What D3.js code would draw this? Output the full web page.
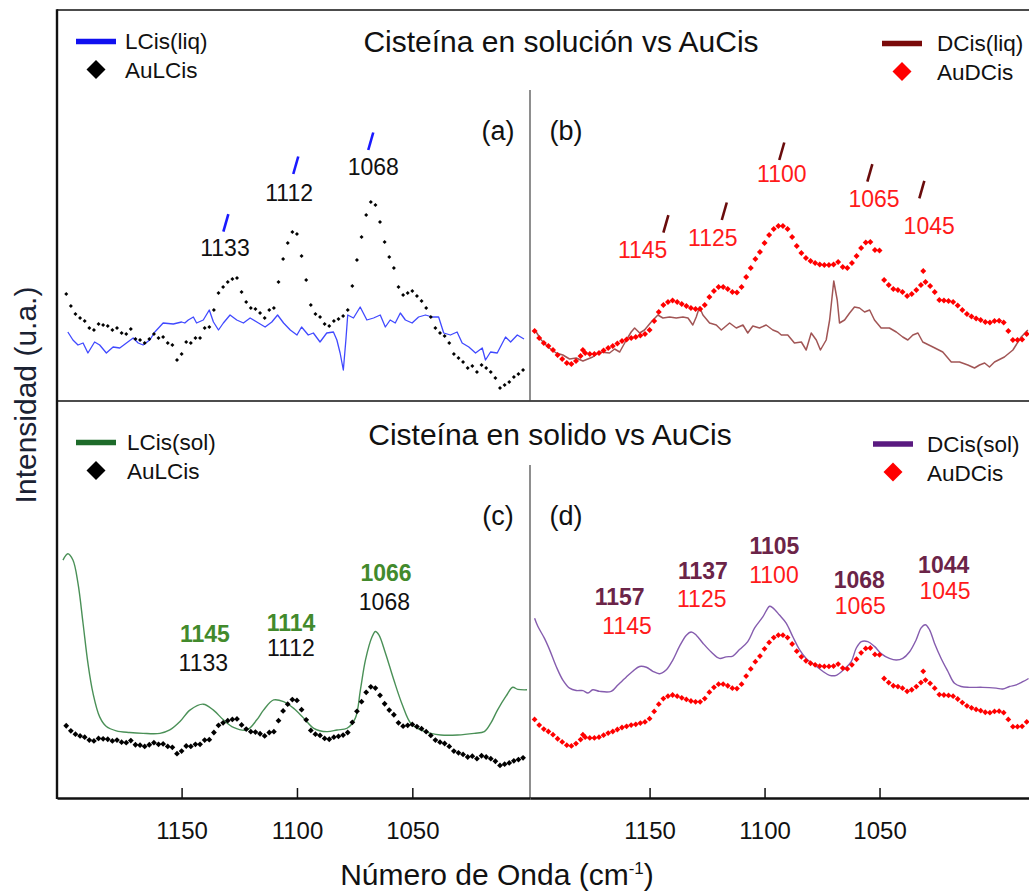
<!DOCTYPE html>
<html>
<head>
<meta charset="utf-8">
<script src="https://cdn.jsdelivr.net/npm/d3@7"></script>
<style>
  body { margin: 0; background: #ffffff; }
  svg text { font-family: "Liberation Sans", Arial, sans-serif; }
</style>
</head>
<body>
<svg id="chart" width="1029" height="894"></svg>
<script>
// ---------------- data ----------------
const tickValues = [1150, 1100, 1050];

// Au–L-cysteine (AuLCis), sampled every 2 cm-1 starting at 1200 cm-1
const auLCisStart = 1200, auLCisStep = 2;
const auLCis = [96, 84, 76, 72, 69, 62, 60, 66, 65, 64, 60, 62, 57, 56, 61, 51, 50, 47, 51, 56,
  52, 53, 47, 45, 30, 36, 48, 47, 52, 52, 62, 63, 80, 97, 103, 108, 111, 112, 98, 88,
  82, 81, 77, 72, 80, 82, 108, 131, 147, 158, 156, 134, 110, 85, 76, 73, 66, 64, 69, 71,
  74, 80, 104, 130, 153, 175, 188, 185, 168, 148, 133, 122, 103, 95, 97, 99, 94, 89, 82, 73,
  62, 57, 54, 47, 36, 32, 28, 22, 24, 18, 25, 22, 18, 12, 2, 5, 8, 13, 16, 20];

// Au–D-cysteine (AuDCis), sampled every 2 cm-1 starting at 1200 cm-1
const auDCisStart = 1200, auDCisStep = 2;
const auDCis = [33, 26, 21, 18, 14, 9, 5, 1, 0, 3, 8, 11, 10, 10, 11, 13.5, 16, 18, 20.5, 23,
  24.5, 26, 27, 28.5, 30, 34, 43, 52, 59, 62, 63.5, 62, 60, 58, 56, 55, 55, 59, 67, 73,
  77, 77, 75, 72, 71.5, 77, 87, 96, 105, 112, 121, 129, 135, 138, 138, 135, 127, 118, 111, 106,
  103, 101, 99.5, 99, 99, 99.5, 102, 97, 96, 101, 108, 116, 121.5, 122, 114, 113.5, 84, 79, 75, 74,
  72, 68, 70, 74, 79, 82, 78, 72, 64, 63.5, 63, 62, 58.5, 54, 50, 47.5, 45.5, 44, 42, 41.5,
  43, 43.3, 41.5, 33, 24, 24, 24.5, 30];
// isolated AuDCis points off the main trace
const auDCisExtraWave = [1179, 1031];
const auDCisExtra = [14, 93];

// L-cysteine in solution
const lcisLiqWave = [1199.3, 1197.1, 1194.9, 1192.7, 1190.6, 1187.7, 1185.5, 1182.6, 1179.7, 1176.8,
  1173.9, 1171.0, 1168.8, 1166.7, 1163.8, 1161.6, 1158.0, 1153.6, 1150.0, 1148.6,
  1147.1, 1144.9, 1143.5, 1140.6, 1138.0, 1136.2, 1134.0, 1131.9, 1129.0, 1126.1,
  1123.2, 1120.3, 1117.4, 1113.8, 1110.9, 1108.4, 1105.8, 1102.9, 1100.0, 1098.0,
  1095.1, 1092.9, 1090.0, 1087.1, 1084.2, 1082.7, 1081.3, 1079.9, 1078.8, 1078.0,
  1075.5, 1072.6, 1069.7, 1066.8, 1063.9, 1061.7, 1059.6, 1057.4, 1055.2, 1053.0,
  1050.1, 1047.3, 1044.3, 1041.4, 1038.6, 1036.4, 1033.5, 1030.6, 1028.4, 1025.5,
  1022.6, 1019.7, 1018.3, 1016.1, 1013.2, 1009.6, 1007.4, 1004.5, 1001.6];
const lcisLiq = [58, 50, 45, 47, 37, 48, 45, 37, 43, 42,
  47, 52, 47, 45, 50, 58, 67, 66, 68, 67,
  70, 73, 67, 70, 80, 68, 60, 67, 75, 70,
  67, 72, 68, 63, 68, 75, 67, 60, 55, 63,
  55, 57, 48, 57, 58, 50, 37, 20, 50, 75,
  72, 83, 70, 72, 75, 63, 70, 67, 77, 70,
  67, 73, 75, 73, 73, 57, 55, 58, 47, 43,
  37, 42, 30, 38, 37, 53, 48, 55, 51];

// D-cysteine in solution
const dcisLiqWave = [1199.3, 1197.1, 1194.2, 1190.6, 1187.7, 1184.8, 1181.9, 1179.0, 1174.7, 1171.7,
  1167.4, 1165.2, 1163.0, 1160.1, 1158.0, 1156.5, 1154.3, 1152.2, 1149.3, 1146.4,
  1144.2, 1141.3, 1138.4, 1135.5, 1133.3, 1131.2, 1129.7, 1128.3, 1126.8, 1123.9,
  1121.0, 1118.8, 1115.2, 1112.3, 1109.4, 1107.3, 1105.1, 1102.2, 1099.3, 1096.4,
  1094.2, 1092.7, 1089.9, 1087.0, 1084.0, 1081.9, 1079.7, 1077.5, 1075.7, 1073.2,
  1071.7, 1069.9, 1068.4, 1067.4, 1065.2, 1063.0, 1060.9, 1058.7, 1056.5, 1054.3,
  1052.2, 1049.3, 1045.7, 1042.7, 1039.9, 1037.7, 1035.5, 1033.3, 1031.2, 1026.8,
  1022.5, 1018.8, 1015.2, 1011.6, 1008.7, 1006.5, 1004.3, 1002.2, 1000.0, 995.7,
  992.0, 988.4, 985.5];
const dcisLiq = [32, 24, 17, 11, 9, 5, 6, 3, 7, 12,
  11, 15, 12, 24, 32, 36, 31, 34, 42, 49,
  46, 47, 46, 47, 46, 39, 47, 57, 49, 41,
  39, 34, 41, 36, 39, 31, 38, 36, 39, 34,
  32, 29, 29, 21, 22, 14, 31, 24, 14, 24,
  44, 83, 64, 41, 44, 51, 57, 56, 52, 54,
  44, 36, 36, 32, 27, 24, 29, 31, 22, 17,
  12, 2, 2, -1, -4, -1, 1, -3, 2, 7,
  14, 27, 34];

// L-cysteine, solid
const lcisSolWave = [1201.4, 1199.3, 1197.1, 1194.9, 1192.7, 1190.6, 1188.4, 1185.5, 1182.6, 1178.3,
  1172.5, 1166.7, 1159.4, 1155.1, 1150.7, 1146.4, 1140.6, 1136.2, 1131.9, 1127.5,
  1121.7, 1117.4, 1114.5, 1110.1, 1105.8, 1101.4, 1097.1, 1092.7, 1087.0, 1082.6,
  1078.3, 1074.7, 1072.5, 1070.3, 1067.4, 1066.0, 1064.5, 1061.6, 1058.0, 1054.3,
  1050.7, 1046.4, 1042.0, 1037.7, 1030.4, 1023.2, 1018.8, 1016.0, 1013.1, 1009.4,
  1006.5, 1004.3, 1000.3];
const lcisSol = [488, 503, 488, 433, 338, 244, 173, 117, 94, 84,
  80, 78, 78, 86, 106, 133, 147, 133, 110, 92,
  86, 110, 133, 157, 153, 137, 114, 90, 82, 86,
  90, 114, 181, 252, 307, 319, 311, 267, 204, 145,
  102, 86, 78, 74, 74, 78, 82, 102, 133, 166,
  187, 182, 181];

// D-cysteine, solid
const dcisSolWave = [1200.0, 1198.6, 1195.7, 1193.5, 1190.6, 1187.7, 1184.8, 1181.9, 1179.0, 1176.8,
  1174.7, 1171.7, 1166.7, 1163.8, 1160.1, 1157.3, 1154.3, 1151.4, 1148.6, 1145.7,
  1142.7, 1139.9, 1137.0, 1134.0, 1131.9, 1129.7, 1126.8, 1123.2, 1119.6, 1116.7,
  1113.8, 1110.9, 1107.3, 1104.3, 1100.7, 1097.8, 1096.4, 1093.5, 1090.6, 1087.7,
  1084.8, 1081.9, 1078.3, 1074.7, 1071.7, 1068.8, 1065.2, 1062.3, 1060.1, 1057.9,
  1055.1, 1052.2, 1049.3, 1045.7, 1042.7, 1039.9, 1037.0, 1034.1, 1031.9, 1030.1,
  1028.3, 1026.1, 1023.2, 1020.3, 1017.4, 1014.5, 1010.9, 1005.1, 999.3, 996.4,
  993.5, 990.6, 987.7, 985.2];
const dcisSol = [159, 149, 134, 120, 99, 82, 72, 69, 69, 66,
  70, 68, 68, 76, 86, 93, 99, 98, 93, 90,
  95, 107, 124, 138, 142, 138, 128, 117, 109, 111,
  112, 120, 130, 147, 161, 174, 172, 163, 153, 136,
  120, 109, 101, 93, 88, 88, 96, 105, 122, 130,
  130, 124, 115, 109, 107, 109, 117, 132, 147, 151,
  145, 128, 109, 93, 78, 74, 73, 73, 72, 71,
  74, 76, 80, 84];

// peak labels
const peaksA = ["1133", "1112", "1068"];
const peaksB = ["1145", "1125", "1100", "1065", "1045"];
const peaksCsol = ["1145", "1114", "1066"];
const peaksCau = ["1133", "1112", "1068"];
const peaksDsol = ["1157", "1137", "1105", "1068", "1044"];
const peaksDau = ["1145", "1125", "1100", "1065", "1045"];

// ---------------- layout ----------------
const frameLeft = 57, frameMid = 530, frameRight = 1029;
const frameTop = 10, frameSplit = 401, frameBottom = 798;

const svg = d3.select("#chart");

const xL = d3.scaleLinear().domain([1204, 999]).range([frameLeft, frameMid]);
const xR = d3.scaleLinear().domain([1202, 985]).range([frameMid, frameRight]);

// vertical scales (arbitrary intensity units per panel)
const yA = d3.scaleLinear().domain([-8, 380]).range([398, 10]);
const yB = d3.scaleLinear().domain([-37, 354]).range([401, 10]);
const yC = d3.scaleLinear().domain([-75, 864.4]).range([frameBottom, frameSplit]);
const yD = d3.scaleLinear().domain([-64.8, 429.6]).range([frameBottom, frameSplit]);

const grid = (start, step, vals) => vals.map((v, i) => ({ w: start - i * step, v }));
const zipWV = (ws, vs) => ws.map((w, i) => ({ w, v: vs[i] }));

const auL = grid(auLCisStart, auLCisStep, auLCis);
const auD = grid(auDCisStart, auDCisStep, auDCis).concat(zipWV(auDCisExtraWave, auDCisExtra));

// clipping for each panel
const defs = svg.append("defs");
function clip(id, x0, y0, x1, y1) {
  defs.append("clipPath").attr("id", id).append("rect")
    .attr("x", x0).attr("y", y0).attr("width", x1 - x0).attr("height", y1 - y0);
}
clip("cA", frameLeft + 1, frameTop, frameMid, frameSplit);
clip("cB", frameMid, frameTop, frameRight, frameSplit);
clip("cC", frameLeft + 1, frameSplit, frameMid, frameBottom);
clip("cD", frameMid, frameSplit, frameRight, frameBottom);

const diamond = r => `M0,${-r}L${r},0L0,${r}L${-r},0Z`;

function drawLine(g, data, x, y, color, width, curve, opacity) {
  g.append("path").datum(data)
    .attr("fill", "none").attr("stroke", color).attr("stroke-width", width)
    .attr("stroke-opacity", opacity).attr("stroke-linejoin", "round")
    .attr("d", d3.line().x(d => x(d.w)).y(d => y(d.v)).curve(curve));
}
function drawDots(g, data, x, y, color, r) {
  g.selectAll(null).data(data).enter().append("path")
    .attr("d", diamond(r)).attr("fill", color)
    .attr("transform", d => `translate(${x(d.w)},${y(d.v)})`);
}

// panel (a)
const gA = svg.append("g").attr("clip-path", "url(#cA)");
drawLine(gA, zipWV(lcisLiqWave, lcisLiq), xL, yA, "#2b35ff", 1.3, d3.curveLinear, 0.9);
drawDots(gA, auL, xL, yA, "#000000", 2.0);

// panel (b)
const gB = svg.append("g").attr("clip-path", "url(#cB)");
drawLine(gB, zipWV(dcisLiqWave, dcisLiq), xR, yB, "#8a2a2a", 1.5, d3.curveLinear, 0.8);
drawDots(gB, auD, xR, yB, "#ff0000", 3.0);

// panel (c)
const gC = svg.append("g").attr("clip-path", "url(#cC)");
drawLine(gC, zipWV(lcisSolWave, lcisSol), xL, yC, "#2a7d3a", 1.4, d3.curveCatmullRom, 0.85);
drawDots(gC, auL, xL, yC, "#000000", 2.9);

// panel (d)
const gD = svg.append("g").attr("clip-path", "url(#cD)");
drawLine(gD, zipWV(dcisSolWave, dcisSol), xR, yD, "#7040a0", 1.4, d3.curveCatmullRom, 0.85);
drawDots(gD, auD, xR, yD, "#ff0000", 2.9);

// ---------------- frame ----------------
const frame = svg.append("g").attr("stroke", "#111").attr("fill", "none");
frame.append("line").attr("x1", frameLeft).attr("x2", frameRight).attr("y1", frameTop).attr("y2", frameTop).attr("stroke-width", 1.6);
frame.append("line").attr("x1", frameLeft).attr("x2", frameRight).attr("y1", frameSplit).attr("y2", frameSplit).attr("stroke-width", 1.6);
frame.append("line").attr("x1", frameLeft).attr("x2", frameLeft).attr("y1", frameTop - 0.8).attr("y2", frameBottom + 1).attr("stroke-width", 2.4);
frame.append("line").attr("x1", frameMid).attr("x2", frameMid).attr("y1", 90).attr("y2", frameSplit).attr("stroke", "#444").attr("stroke-width", 1.2);
frame.append("line").attr("x1", frameMid).attr("x2", frameMid).attr("y1", 465).attr("y2", frameBottom).attr("stroke", "#444").attr("stroke-width", 1.2);

// ---------------- axes ----------------
function drawAxis(x) {
  const ax = svg.append("g").attr("transform", `translate(0,${frameBottom})`)
    .call(d3.axisBottom(x).tickValues(tickValues).tickSizeInner(-10).tickSizeOuter(0).tickPadding(24).tickFormat(d3.format("d")));
  ax.select(".domain").attr("stroke", "#111").attr("stroke-width", 2.4);
  ax.selectAll(".tick line").attr("stroke", "#111").attr("stroke-width", 1.5);
  ax.selectAll(".tick text").attr("fill", "#111")
    .style("font-family", '"Liberation Sans Narrow", "Liberation Sans", Arial, sans-serif')
    .style("font-size", "24px");
}
drawAxis(xL);
drawAxis(xR);

const xt = svg.append("text").attr("x", 497).attr("y", 885).attr("text-anchor", "middle")
  .attr("fill", "#111").style("font-family", '"Liberation Sans Narrow", "Liberation Sans", Arial, sans-serif')
  .style("font-size", "30px");
xt.append("tspan").text("Número de Onda (cm");
xt.append("tspan").text("-1").attr("dy", -11).style("font-size", "17px");
xt.append("tspan").text(")").attr("dy", 11);

svg.append("text").attr("transform", "translate(36,395) rotate(-90)").attr("text-anchor", "middle")
  .attr("fill", "#1a2233").style("font-family", '"Liberation Sans Narrow", "Liberation Sans", Arial, sans-serif')
  .style("font-size", "30px").text("Intensidad (u.a.)");

// ---------------- titles ----------------
svg.append("text").attr("x", 561).attr("y", 52).attr("text-anchor", "middle")
  .attr("fill", "#111").style("font-size", "30px").text("Cisteína en solución vs AuCis");
svg.append("text").attr("x", 550).attr("y", 445).attr("text-anchor", "middle")
  .attr("fill", "#111").style("font-size", "30px").text("Cisteína en solido vs AuCis");

// panel letters
const letters = [["(a)", 498, 140], ["(b)", 566, 140], ["(c)", 498, 525], ["(d)", 566, 525]];
svg.selectAll(null).data(letters).enter().append("text")
  .attr("x", d => d[1]).attr("y", d => d[2]).attr("text-anchor", "middle")
  .attr("fill", "#111").style("font-size", "27px").text(d => d[0]);

// ---------------- legends ----------------
function legend(x0, y0, lineColor, dotColor, lineLabel, dotLabel, textX) {
  const g = svg.append("g");
  g.append("line").attr("x1", x0).attr("x2", x0 + 40).attr("y1", y0).attr("y2", y0)
    .attr("stroke", lineColor).attr("stroke-width", 5.5);
  g.append("path").attr("d", diamond(9.5)).attr("fill", dotColor)
    .attr("transform", `translate(${x0 + 20},${y0 + 28})`);
  g.append("text").attr("x", textX).attr("y", y0 + 7.5).attr("fill", "#111")
    .style("font-size", "22.5px").text(lineLabel);
  g.append("text").attr("x", textX).attr("y", y0 + 36.5).attr("fill", "#111")
    .style("font-size", "22.5px").text(dotLabel);
}
legend(76, 41.5, "#1010f0", "#000000", "LCis(liq)", "AuLCis", 125);
legend(882, 43.5, "#7a0a0a", "#ff0000", "DCis(liq)", "AuDCis", 937);
legend(76, 442.5, "#1e6b2a", "#000000", "LCis(sol)", "AuLCis", 127);
legend(873, 444, "#5a1a80", "#ff0000", "DCis(sol)", "AuDCis", 927);

// ---------------- peak annotations ----------------
function label(text, x, y, color, bold) {
  svg.append("text").attr("x", x).attr("y", y).attr("text-anchor", "middle")
    .attr("fill", color).style("font-size", "23px").style("font-weight", bold ? "bold" : "normal")
    .text(text);
}
function slash(x, y, color) {
  svg.append("line").attr("x1", x).attr("y1", y).attr("x2", x + 5).attr("y2", y - 17.5)
    .attr("stroke", color).attr("stroke-width", 2.6);
}

// (a) positions in (wavenumber, intensity)
const posA = [[1131.2, 134], [1103.4, 189.3], [1066.9, 215]];
const markA = [[1131.9, 158.3], [1101.6, 216], [1069.1, 240]];
peaksA.forEach((t, i) => {
  label(t, xL(posA[i][0]), yA(posA[i][1]), "#111", false);
  slash(xL(markA[i][0]), yA(markA[i][1]), "#1a1aff");
});

// (b)
const posB = [[1153.0, 105.7], [1122.5, 118], [1092.5, 182.3], [1052.4, 157.3], [1028.4, 130]];
const markB = [[1144.0, 131.3], [1118.6, 144], [1093.6, 204], [1055.3, 182.3], [1032.7, 165.7]];
peaksB.forEach((t, i) => {
  label(t, xR(posB[i][0]), yB(posB[i][1]), "#ff1a1a", false);
  slash(xR(markB[i][0]), yB(markB[i][1]), "#6a0c0c");
});

// (c)
const posCsol = [[1139.9, 293], [1102.6, 321], [1061.4, 438]];
const posCau = [[1140.6, 225], [1102.6, 262], [1062.1, 369]];
peaksCsol.forEach((t, i) => label(t, xL(posCsol[i][0]), yC(posCsol[i][1]), "#428a2c", true));
peaksCau.forEach((t, i) => label(t, xL(posCau[i][0]), yC(posCau[i][1]), "#111", false));

// (d)
const posDsol = [[1163.0, 176], [1126.8, 208], [1095.7, 238.5], [1058.8, 197], [1022.1, 215.5]];
const posDau = [[1159.8, 139.5], [1127.3, 172.5], [1095.9, 203.5], [1058.4, 164.5], [1021.5, 183]];
peaksDsol.forEach((t, i) => label(t, xR(posDsol[i][0]), yD(posDsol[i][1]), "#6b2448", true));
peaksDau.forEach((t, i) => label(t, xR(posDau[i][0]), yD(posDau[i][1]), "#ff1a1a", false));
</script>
</body>
</html>
